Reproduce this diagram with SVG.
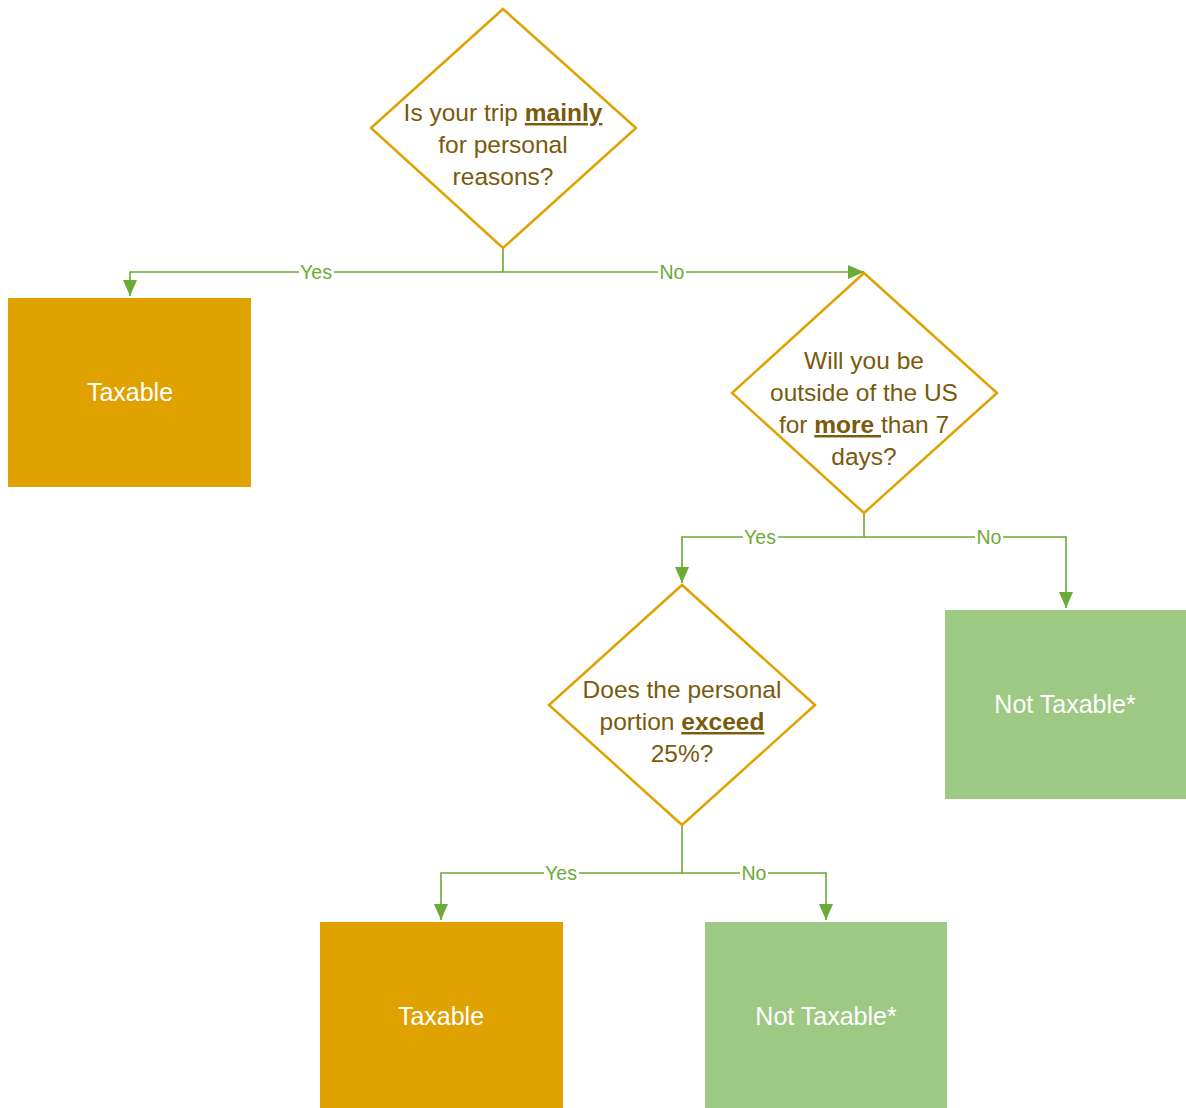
<svg xmlns="http://www.w3.org/2000/svg" width="1186" height="1108" viewBox="0 0 1186 1108">
<style>
.dia{fill:#fff;stroke:#DFA200;stroke-width:2.5}
.dt{font-family:"Liberation Sans",Arial,sans-serif;font-size:24.5px;fill:#7A5A0C;text-anchor:middle}
.u{font-weight:bold;text-decoration:underline}
.tax{fill:#DFA200}
.nt{fill:#9DC985}
.bt{font-family:"Liberation Sans",Arial,sans-serif;font-size:25px;fill:#fff;text-anchor:middle}
.c{fill:none;stroke:#6AAB35;stroke-width:1.6}
.lb{font-family:"Liberation Sans",Arial,sans-serif;font-size:19.5px;fill:#6AAB35;text-anchor:middle}
.lbg{fill:#fff}
</style>
<defs>
<marker id="ah" viewBox="0 0 16 14" refX="16" refY="7" markerWidth="16" markerHeight="14" markerUnits="userSpaceOnUse" orient="auto">
<path d="M0,0 L16,7 L0,14 Z" fill="#6AAB35"/>
</marker>
</defs>
<rect width="1186" height="1108" fill="#fff"/>
<g id="connectors">
<path class="c" d="M503,248 V272 H130 V296" marker-end="url(#ah)"/>
<path class="c" d="M503,272 H864" marker-end="url(#ah)"/>
<path class="c" d="M864,513 V537 H682 V583" marker-end="url(#ah)"/>
<path class="c" d="M864,537 H1066 V608" marker-end="url(#ah)"/>
<path class="c" d="M682,825 V873 H441 V920" marker-end="url(#ah)"/>
<path class="c" d="M682,873 H826 V920" marker-end="url(#ah)"/>
<rect class="lbg" x="299" y="262" width="35" height="20"/>
<text class="lb" x="316" y="279">Yes</text>
<rect class="lbg" x="658" y="262" width="28" height="20"/>
<text class="lb" x="672" y="279">No</text>
<rect class="lbg" x="743" y="527" width="35" height="20"/>
<text class="lb" x="760" y="544">Yes</text>
<rect class="lbg" x="975" y="527" width="28" height="20"/>
<text class="lb" x="989" y="544">No</text>
<rect class="lbg" x="544" y="863" width="35" height="20"/>
<text class="lb" x="561" y="880">Yes</text>
<rect class="lbg" x="740" y="863" width="28" height="20"/>
<text class="lb" x="754" y="880">No</text>
</g>
<g id="q1">
<polygon class="dia" points="503,9 636,128 503,248 371,128"/>
<text class="dt" x="503" y="121">Is your trip <tspan class="u">mainly</tspan></text>
<text class="dt" x="503" y="153">for personal</text>
<text class="dt" x="503" y="185">reasons?</text>
</g>
<g id="taxable1">
<rect class="tax" x="8" y="298" width="243" height="189"/>
<text class="bt" x="130" y="401">Taxable</text>
</g>
<g id="q2">
<polygon class="dia" points="864,273 997,393 864,513 732,393"/>
<text class="dt" x="864" y="369">Will you be</text>
<text class="dt" x="864" y="401">outside of the US</text>
<text class="dt" x="864" y="433">for <tspan class="u">more </tspan>than 7</text>
<text class="dt" x="864" y="465">days?</text>
</g>
<g id="nottaxable1">
<rect class="nt" x="945" y="610" width="241" height="189"/>
<text class="bt" x="1065" y="713">Not Taxable*</text>
</g>
<g id="q3">
<polygon class="dia" points="682,585 815,705 682,825 549,705"/>
<text class="dt" x="682" y="698">Does the personal</text>
<text class="dt" x="682" y="730">portion <tspan class="u">exceed</tspan></text>
<text class="dt" x="682" y="762">25%?</text>
</g>
<g id="taxable2">
<rect class="tax" x="320" y="922" width="243" height="186"/>
<text class="bt" x="441" y="1025">Taxable</text>
</g>
<g id="nottaxable2">
<rect class="nt" x="705" y="922" width="242" height="186"/>
<text class="bt" x="826" y="1025">Not Taxable*</text>
</g>
</svg>
